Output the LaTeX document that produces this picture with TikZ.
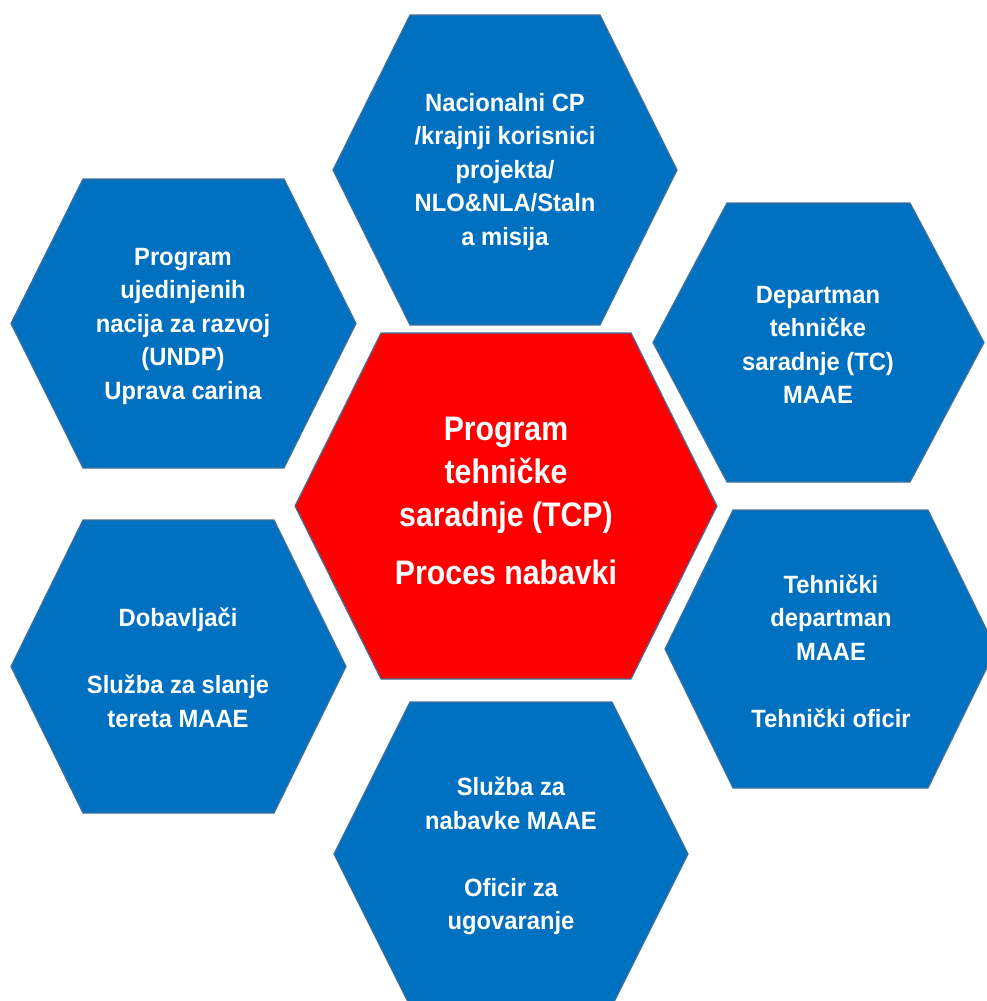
\documentclass[tikz,border=0pt]{standalone}
\usepackage{fontspec}
\setmainfont{Liberation Sans}[FakeStretch=0.95]
\newfontfamily\centerfont{Liberation Sans}[FakeStretch=0.89]
\definecolor{hexblue}{HTML}{0070C0}
\definecolor{hexred}{HTML}{FF0000}
\definecolor{hexline}{HTML}{41719C}
\tikzset{
  hexblue/.style={fill=hexblue, draw=hexline, line width=1.2pt},
  hexred/.style={fill=hexred, draw=hexline, line width=1.2pt},
  bluetext/.style={text=white, align=center, inner sep=0pt,
    font=\bfseries\fontsize{25}{33.5}\selectfont},
  redtext/.style={text=white, align=center, inner sep=0pt,
    font=\centerfont\bfseries\fontsize{34}{43}\selectfont}
}
% #1 left x, #2 right x, #3 top y, #4 bottom y, #5 inset, #6 style
\newcommand\myhex[6]{%
  \draw[#6] (#1,{(#3+#4)/2}) -- (#1+#5,#3) -- (#2-#5,#3) -- (#2,{(#3+#4)/2})
    -- (#2-#5,#4) -- (#1+#5,#4) -- cycle;}
\begin{document}
\begin{tikzpicture}[x=1pt,y=-1pt]
\useasboundingbox (0,0) rectangle (987,1001);
\fill[white] (0,0) rectangle (987,1001);

\myhex{333}{677}{15}{325}{77}{hexblue}
\myhex{11}{356}{179}{468}{72}{hexblue}
\myhex{653}{984}{203}{482}{74}{hexblue}
\myhex{295}{717}{333}{679}{86}{hexred}
\myhex{11}{346}{520}{813}{72}{hexblue}
\myhex{665}{996}{510}{788}{68}{hexblue}
\myhex{334}{688}{702}{1006}{76}{hexblue}

\node[bluetext] (top) at (505,172) {Nacionalni CP\\/krajnji korisnici\\projekta/\\NLO\&NLA/Staln\\a misija};
\node[bluetext] (undp) at (183,326) {Program\\ujedinjenih\\nacija za razvoj\\(UNDP)\\Uprava carina};
\node[bluetext] (tc) at (818,345) {Departman\\tehničke\\saradnje (TC)\\MAAE};
\node[redtext] (center) at (506,501) {Program\\tehničke\\saradnje (TCP)\\[15pt]Proces nabavki};
\node[bluetext] (dob) at (178,668) {Dobavljači\\[33.5pt]Služba za slanje\\tereta MAAE};
\node[bluetext] (teh) at (831,651) {Tehnički\\departman\\MAAE\\[33.5pt]Tehnički oficir};
\node[bluetext] (nab) at (511,856) {Služba za\\nabavke MAAE\\[33.5pt]Oficir za\\ugovaranje};
\end{tikzpicture}
\end{document}
